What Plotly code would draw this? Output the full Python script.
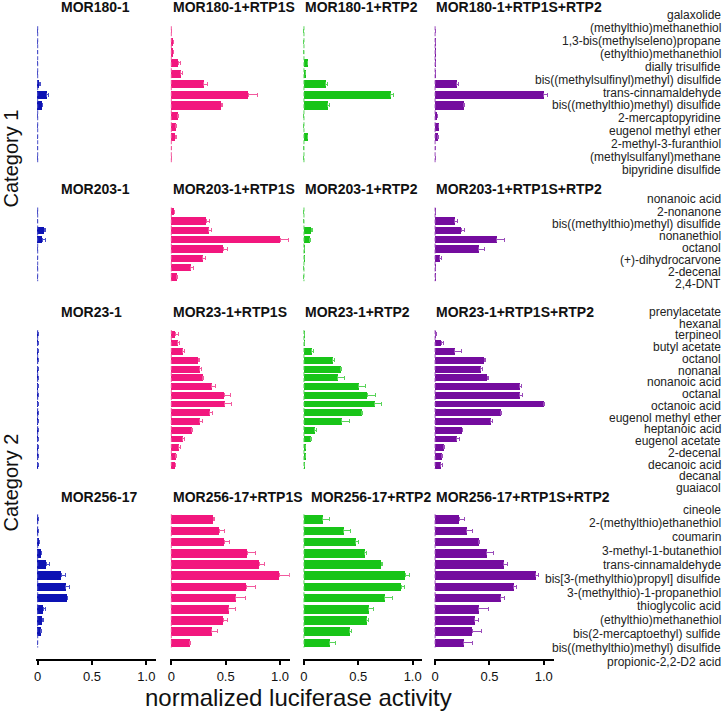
import numpy as np
import plotly.graph_objects as go

W, H = 723, 712
FONT = "Liberation Sans, Arial, sans-serif"

# ---------------- data ----------------
receptors = ["MOR180-1", "MOR203-1", "MOR23-1", "MOR256-17"]
suffixes = ["", "+RTP1S", "+RTP2", "+RTP1S+RTP2"]
colors = ["#0c12b4", "#f2177e", "#18c418", "#740c9e"]
err_colors = ["#4b50c8", "#f25a9e", "#5ad45a", "#9a4cba"]
category_labels = ["Category 1", "Category 2"]
x_title = "normalized luciferase activity"
tick_vals = [0, 0.5, 1.0]
tick_text = ["0", "0.5", "1.0"]

odorants_mor180 = ["galaxolide", "(methylthio)methanethiol", "1,3-bis(methylseleno)propane",
                   "(ethylthio)methanethiol", "dially trisulfide",
                   "bis((methylsulfinyl)methyl) disulfide", "trans-cinnamaldehyde",
                   "bis((methylthio)methyl) disulfide", "2-mercaptopyridine",
                   "eugenol methyl ether", "2-methyl-3-furanthiol",
                   "(methylsulfanyl)methane", "bipyridine disulfide"]
odorants_mor203 = ["nonanoic acid", "2-nonanone", "bis((methylthio)methyl) disulfide",
                   "nonanethiol", "octanol", "(+)-dihydrocarvone", "2-decenal", "2,4-DNT"]
odorants_mor23 = ["prenylacetate", "hexanal", "terpineol", "butyl acetate", "octanol",
                  "nonanal", "nonanoic acid", "octanal", "octanoic acid",
                  "eugenol methyl ether", "heptanoic acid", "eugenol acetate", "2-decenal",
                  "decanoic acid", "decanal", "guaiacol"]
odorants_mor256 = ["cineole", "2-(methylthio)ethanethiol", "coumarin", "3-methyl-1-butanethiol",
                   "trans-cinnamaldehyde", "bis[3-(methylthio)propyl] disulfide",
                   "3-(methylthio)-1-propanethiol", "thioglycolic acid",
                   "(ethylthio)methanethiol", "bis(2-mercaptoethyl) sulfide",
                   "bis((methylthio)methyl) disulfide", "propionic-2,2-D2 acid"]

# MOR180-1
mor180_alone = [0, 0, 0, 0, 0, 0.02, 0.085, 0.04, 0, 0, 0, 0, 0]
mor180_alone_err = [0, 0, 0, 0, 0, 0.004, 0.01, 0.005, 0, 0, 0, 0, 0]
mor180_rtp1s = [0, 0.018, 0.02, 0.065, 0.085, 0.30, 0.71, 0.46, 0.06, 0.04, 0.037, 0, 0]
mor180_rtp1s_err = [0, 0.003, 0.003, 0.015, 0.015, 0.035, 0.08, 0.015, 0.005, 0.005, 0.01, 0, 0]
mor180_rtp2 = [0, 0, 0, 0.03, 0.01, 0.20, 0.80, 0.217, 0, 0, 0.03, 0, 0]
mor180_rtp2_err = [0, 0, 0, 0.005, 0.003, 0.012, 0.028, 0.02, 0, 0, 0.005, 0, 0]
mor180_both = [0, 0.005, 0.005, 0.005, 0.005, 0.20, 1.0, 0.26, 0.02, 0.03, 0.025, 0, 0]
mor180_both_err = [0, 0, 0, 0, 0, 0.015, 0.035, 0.015, 0, 0, 0.005, 0, 0]

# MOR203-1
mor203_alone = [0, 0, 0.065, 0.045, 0, 0, 0, 0]
mor203_alone_err = [0, 0, 0.005, 0.025, 0, 0, 0, 0]
mor203_rtp1s = [0.025, 0.32, 0.345, 1.0, 0.48, 0.29, 0.18, 0.05]
mor203_rtp1s_err = [0.003, 0.035, 0.02, 0.08, 0.035, 0.02, 0.02, 0.003]
mor203_rtp2 = [0, 0, 0.065, 0.05, 0.003, 0.003, 0, 0]
mor203_rtp2_err = [0, 0, 0.015, 0.012, 0, 0, 0, 0]
mor203_both = [0.003, 0.18, 0.24, 0.565, 0.40, 0.04, 0.003, 0.003]
mor203_both_err = [0, 0.025, 0.035, 0.075, 0.05, 0.02, 0, 0]

# MOR23-1
mor23_alone = [0.003] * 16
mor23_alone_err = [0] * 16
mor23_rtp1s = [0.034, 0.058, 0.107, 0.25, 0.263, 0.29, 0.37, 0.486, 0.49, 0.355, 0.26,
               0.19, 0.107, 0.067, 0.04, 0.034]
mor23_rtp1s_err = [0.028, 0.018, 0.015, 0.01, 0.01, 0.01, 0.04, 0.06, 0.06, 0.028, 0.03,
                   0.005, 0.012, 0.02, 0.005, 0.005]
mor23_rtp2 = [0.003, 0.003, 0.067, 0.26, 0.333, 0.31, 0.50, 0.58, 0.65, 0.53, 0.345,
              0.095, 0.06, 0.012, 0.012, 0.003]
mor23_rtp2_err = [0, 0, 0.025, 0.02, 0.01, 0.06, 0.07, 0.08, 0.06, 0.01, 0.075,
                  0.02, 0.012, 0, 0, 0]
mor23_both = [0.005, 0.055, 0.18, 0.45, 0.42, 0.48, 0.777, 0.777, 1.0, 0.60, 0.51,
              0.25, 0.20, 0.076, 0.06, 0.052]
mor23_both_err = [0.005, 0.02, 0.06, 0.012, 0.02, 0.015, 0.018, 0.024, 0.01, 0.015, 0.02,
                  0.005, 0.025, 0.015, 0.008, 0.02]

# MOR256-17
mor256_alone = [0.003, 0.003, 0.015, 0.034, 0.08, 0.217, 0.26, 0.27, 0.055, 0.046, 0.03, 0]
mor256_alone_err = [0, 0, 0, 0, 0.03, 0.043, 0.03, 0.006, 0.015, 0.003, 0.003, 0]
mor256_rtp1s = [0.385, 0.44, 0.486, 0.70, 0.81, 0.994, 0.69, 0.593, 0.53, 0.48, 0.373, 0.168]
mor256_rtp1s_err = [0.012, 0.045, 0.05, 0.07, 0.043, 0.09, 0.085, 0.09, 0.06, 0.04, 0.055, 0.01]
mor256_rtp2 = [0.168, 0.367, 0.474, 0.56, 0.71, 0.93, 0.893, 0.743, 0.593, 0.578, 0.416, 0.232]
mor256_rtp2_err = [0.07, 0.064, 0.03, 0.015, 0.01, 0.037, 0.034, 0.067, 0.05, 0.015, 0.02, 0.06]
mor256_both = [0.22, 0.29, 0.40, 0.474, 0.63, 0.924, 0.72, 0.605, 0.40, 0.364, 0.34, 0.26]
mor256_both_err = [0.05, 0.05, 0.012, 0.064, 0.04, 0.028, 0.028, 0.037, 0.09, 0.034, 0.09, 0.085]

odorants = [odorants_mor180, odorants_mor203, odorants_mor23, odorants_mor256]
values = [[mor180_alone, mor180_rtp1s, mor180_rtp2, mor180_both],
          [mor203_alone, mor203_rtp1s, mor203_rtp2, mor203_both],
          [mor23_alone, mor23_rtp1s, mor23_rtp2, mor23_both],
          [mor256_alone, mor256_rtp1s, mor256_rtp2, mor256_both]]
errors = [[mor180_alone_err, mor180_rtp1s_err, mor180_rtp2_err, mor180_both_err],
          [mor203_alone_err, mor203_rtp1s_err, mor203_rtp2_err, mor203_both_err],
          [mor23_alone_err, mor23_rtp1s_err, mor23_rtp2_err, mor23_both_err],
          [mor256_alone_err, mor256_rtp1s_err, mor256_rtp2_err, mor256_both_err]]

# ---------------- layout geometry (pixels) ----------------
col_x0 = [35.8, 169.8, 302.8, 434.3]
unit_px = 109.0
x_lo, x_hi = -0.012, 1.09
row_bar_first = [31.0, 211.7, 334.0, 519.3]
row_bar_step = [10.6, 9.33, 8.73, 11.2]
label_first = [15.0, 199.5, 312.0, 509.5]
label_last = [170.0, 284.5, 488.0, 661.7]
label_right = 721.5
title_y = [7.5, 188.5, 311.7, 497.3]
title_x = [56.7, 169.0, 302.3, 432.7]
axis_line_y = 660.0


def px(x):
    return x / W


def py(y):
    return 1 - y / H


fig = go.Figure()
layout = dict()
annotations = []

for r in range(4):
    n = len(odorants[r])
    ypos = np.arange(n)
    top = row_bar_first[r] - 0.6 * row_bar_step[r]
    bot = row_bar_first[r] + (n - 1) * row_bar_step[r] + 0.6 * row_bar_step[r]
    for c in range(4):
        k = r * 4 + c + 1
        xa = "x" if k == 1 else f"x{k}"
        ya = "y" if k == 1 else f"y{k}"
        xkey = "xaxis" if k == 1 else f"xaxis{k}"
        ykey = "yaxis" if k == 1 else f"yaxis{k}"
        x0 = col_x0[c] + x_lo * unit_px
        x1 = col_x0[c] + x_hi * unit_px
        bottom_row = (r == 3)
        xdict = dict(domain=[px(x0), px(x1)], range=[x_lo, x_hi], showgrid=False,
                     zeroline=False, visible=bottom_row, fixedrange=True)
        if bottom_row:
            xdict.update(anchor="free", position=py(axis_line_y), showline=True,
                         linecolor="black", linewidth=2, ticks="outside", ticklen=4,
                         tickwidth=2, tickcolor="black", tickmode="array",
                         tickvals=tick_vals, ticktext=tick_text,
                         tickfont=dict(family=FONT, size=13, color="#111"))
        else:
            xdict.update(anchor=ya)
        layout[xkey] = xdict
        layout[ykey] = dict(domain=[py(bot), py(top)], range=[n - 0.4, -0.6],
                            visible=False, showgrid=False, zeroline=False,
                            anchor=xa, fixedrange=True)
        # dashed baseline at zero
        fig.add_trace(go.Scatter(x=[0, 0], y=[-0.45, n - 0.55], mode="lines",
                                 line=dict(color=err_colors[c], width=1, dash="4px,2px"),
                                 xaxis=xa, yaxis=ya, showlegend=False, hoverinfo="skip"))
        fig.add_trace(go.Bar(
            x=values[r][c], y=ypos, orientation="h", width=0.78,
            marker=dict(color=colors[c], line=dict(width=0)),
            error_x=dict(type="data", array=errors[r][c], arrayminus=[0] * n,
                         symmetric=False, color=err_colors[c], thickness=1, width=2),
            xaxis=xa, yaxis=ya, showlegend=False))
        tx = title_x[c]
        if r == 3 and c == 2:
            tx = 307.7
        annotations.append(dict(text=f"<b>{receptors[r]}{suffixes[c]}</b>", xref="paper",
                                yref="paper", x=px(tx), y=py(title_y[r]), xanchor="left",
                                yanchor="middle", showarrow=False,
                                font=dict(family=FONT, size=14, color="#111")))
    # odorant label axis (invisible scale); labels placed on it as right-aligned text
    lk = 17 + r
    lstep = (label_last[r] - label_first[r]) / (n - 1)
    ltop = label_first[r] - 0.5 * lstep
    lbot = label_last[r] + 0.5 * lstep
    xa_lab = f"x{r * 4 + 4}"
    layout[f"yaxis{lk}"] = dict(domain=[py(lbot), py(ltop)], range=[n - 0.5, -0.5],
                                anchor="free", position=1.0, visible=False,
                                showgrid=False, zeroline=False, fixedrange=True)
    fig.add_trace(go.Scatter(x=[None], y=[None], xaxis=xa_lab, yaxis=f"y{lk}",
                             showlegend=False, hoverinfo="skip"))
    for i, name in enumerate(odorants[r]):
        annotations.append(dict(text=name, xref="paper", yref=f"y{lk}", x=px(label_right),
                                y=i, xanchor="right", yanchor="middle", showarrow=False,
                                borderpad=0,
                                font=dict(family=FONT, size=12, color="#222")))

# category labels
for lab, yc in zip(category_labels, [158.0, 482.0]):
    annotations.append(dict(text=lab, xref="paper", yref="paper", x=px(9.5), y=py(yc),
                            xanchor="center", yanchor="middle", textangle=-90,
                            showarrow=False, font=dict(family=FONT, size=20, color="#111")))
annotations.append(dict(text=x_title, xref="paper", yref="paper", x=px(297), y=py(697),
                        xanchor="center", yanchor="middle", showarrow=False,
                        font=dict(family=FONT, size=24, color="#111")))

fig.update_layout(**layout)
fig.update_layout(width=W, height=H, margin=dict(l=0, r=0, t=0, b=0),
                  paper_bgcolor="white", plot_bgcolor="rgba(0,0,0,0)",
                  annotations=annotations, bargap=0, showlegend=False,
                  font=dict(family=FONT))
fig.write_html("out.html", config={"displayModeBar": False},
               post_script="document.body.style.margin='0';document.body.style.padding='0';")
